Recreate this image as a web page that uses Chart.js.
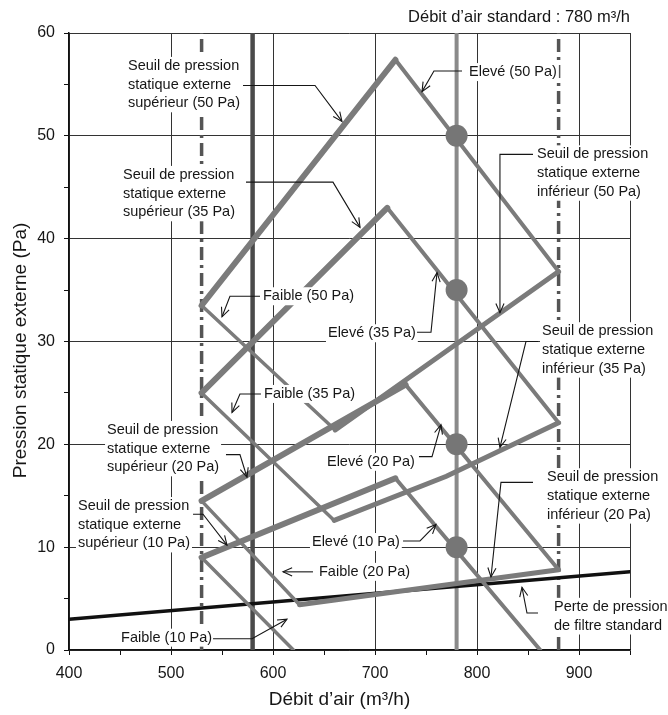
<!DOCTYPE html>
<html lang="fr">
<head>
<meta charset="utf-8">
<title>Pression statique externe</title>
<script src="https://cdn.jsdelivr.net/npm/chart.js@4.4.1/dist/chart.umd.min.js"></script>
<style>
  html, body { margin: 0; padding: 0; background: #fff; }
  #wrap { width: 668px; height: 715px; }
</style>
</head>
<body>
<div id="wrap"><canvas id="chart" width="668" height="715"></canvas></div>
<script>
// axis ticks
const xTicks = [400, 500, 600, 700, 800, 900];
const yTicks = [0, 10, 20, 30, 40, 50, 60];

// curves, [débit, pression]
const seuilSup50 = [[530, 33.5], [720, 57.4]];
const eleve50 = [[720, 57.4], [880, 36.8]];
const seuilInf50 = [[661, 21.4], [880, 36.8]];
const faible50 = [[530, 33.5], [661, 21.4]];

const seuilSup35 = [[530, 25.0], [712, 43.0]];
const eleve35 = [[712, 43.0], [880, 22.1]];
const seuilInf35 = [[660, 12.6], [770, 16.9], [880, 22.1]];
const faible35 = [[530, 25.0], [660, 12.6]];

const seuilSup20 = [[530, 14.5], [730, 25.8]];
const eleve20 = [[730, 25.8], [880, 7.8]];
const seuilInf20 = [[626, 4.4], [880, 7.8]];
const faible20 = [[530, 14.5], [626, 4.4]];

const seuilSup10 = [[530, 9.0], [720, 16.7]];
const eleve10 = [[720, 16.7], [862, 0]];
const faible10 = [[530, 9.0], [620, 0]];

const perteFiltre = [[400, 3.0], [950, 7.6]];

const debitStandard = 780;
const pointsStandard = [50, 35, 20, 10];
const debitMin = 580;
const debitLimites = [530, 880];

// callouts: text block, anchor and leader line (data units)
const notes = [
  { text: ['Seuil de pression', 'statique externe', 'supérieur (50 Pa)'], at: [457.8, 56.8], leader: [[570.6, 54.9], [641.2, 54.9], [667.6, 51.4]] },
  { text: ['Elevé (50 Pa)'], at: [792.2, 56.2], leader: [[785.3, 56.3], [757.8, 56.3], [746.1, 54.3]] },
  { text: ['Seuil de pression', 'statique externe', 'supérieur (35 Pa)'], at: [452.9, 46.2], leader: [[573.5, 45.5], [658.8, 45.5], [685.3, 41.1]] },
  { text: ['Faible (50 Pa)'], at: [590.2, 34.4], leader: [[587.3, 34.4], [557.8, 34.4], [550, 32.4]] },
  { text: ['Elevé (35 Pa)'], at: [653.9, 30.8], leader: [[741.2, 30.9], [754.9, 30.9], [760.8, 36.7]] },
  { text: ['Seuil de pression', 'statique externe', 'inférieur (50 Pa)'], at: [858.8, 48.2], leader: [[854.9, 48.2], [822.5, 48.2], [822.5, 32.8]] },
  { text: ['Seuil de pression', 'statique externe', 'inférieur (35 Pa)'], at: [863.7, 31.0], leader: [[859.8, 30.0], [848, 30.0], [822.5, 19.7]] },
  { text: ['Faible (35 Pa)'], at: [591.2, 24.9], leader: [[588.2, 24.9], [567.6, 24.9], [559.8, 23.1]] },
  { text: ['Seuil de pression', 'statique externe', 'supérieur (20 Pa)'], at: [437.3, 21.4], leader: [[553.9, 19.0], [567.6, 19.0], [574.5, 16.8]] },
  { text: ['Elevé (20 Pa)'], at: [652.9, 18.3], leader: [[743.1, 18.8], [755.9, 18.8], [764.7, 21.9]] },
  { text: ['Seuil de pression', 'statique externe', 'inférieur (20 Pa)'], at: [868.6, 16.8], leader: [[854.9, 16.3], [823.5, 16.3], [813.7, 7.1]] },
  { text: ['Seuil de pression', 'statique externe', 'supérieur (10 Pa)'], at: [408.8, 14.0], leader: [[521.6, 13.2], [531.4, 13.2], [554.9, 10.2]] },
  { text: ['Elevé (10 Pa)'], at: [638.2, 10.5], leader: [[727.5, 10.6], [744.1, 10.6], [759.8, 12.2]] },
  { text: ['Faible (20 Pa)'], at: [645.1, 7.6], leader: [[639.2, 7.6], [609.8, 7.6]] },
  { text: ['Faible (10 Pa)'], at: [451, 1.2], leader: [[541.2, 1.1], [579.4, 1.1], [613.7, 3.0]] },
  { text: ['Perte de pression', 'de filtre standard'], at: [875.5, 4.2], leader: [[859.8, 3.6], [849, 3.6], [844.1, 6.1]] }
];

const FONT = '"Liberation Sans", Arial, Helvetica, sans-serif';
const GRAY = '#7b7b7b';
const INK = '#161616';
Chart.defaults.font.family = FONT;

const line = (label, pts, width, color, order, dash) => ({
  label,
  data: pts.map(([x, y]) => ({ x, y })),
  showLine: true,
  borderColor: color,
  borderWidth: width,
  borderDash: dash || [],
  borderCapStyle: dash ? 'butt' : 'round',
  pointRadius: 0,
  fill: false,
  order
});

const vertical = (label, x, width, color, dash) =>
  line(label, [[x, yTicks[0]], [x, yTicks[yTicks.length - 1]]], width, color, 5, dash);

const datasets = [
  {
    label: 'Débit standard',
    data: pointsStandard.map(y => ({ x: debitStandard, y })),
    pointRadius: 11,
    pointBackgroundColor: '#767676',
    pointBorderWidth: 0,
    order: 0
  },
  line('Seuil sup 50', seuilSup50, 6, GRAY, 1),
  line('Elevé 50', eleve50, 4, GRAY, 1),
  line('Seuil inf 50', seuilInf50, 5, GRAY, 1),
  line('Faible 50', faible50, 3.5, GRAY, 1),
  line('Seuil sup 35', seuilSup35, 6, GRAY, 1),
  line('Elevé 35', eleve35, 4, GRAY, 1),
  line('Seuil inf 35', seuilInf35, 5, GRAY, 1),
  line('Faible 35', faible35, 3.5, GRAY, 1),
  line('Seuil sup 20', seuilSup20, 6, GRAY, 1),
  line('Elevé 20', eleve20, 4, GRAY, 1),
  line('Seuil inf 20', seuilInf20, 5, GRAY, 1),
  line('Faible 20', faible20, 3.5, GRAY, 1),
  line('Seuil sup 10', seuilSup10, 6, GRAY, 1),
  line('Elevé 10', eleve10, 4, GRAY, 1),
  line('Faible 10', faible10, 3.5, GRAY, 1),
  line('Perte de filtre', perteFiltre, 3.5, '#111', 3),
  vertical('Débit min', debitMin, 4.5, '#4a4a4a'),
  vertical('Débit std', debitStandard, 4, '#8a8a8a'),
  vertical('Limite basse', debitLimites[0], 3.5, '#555', [13, 5, 3, 5]),
  vertical('Limite haute', debitLimites[1], 3.5, '#555', [13, 5, 3, 5])
];

function arrowHead(ctx, from, to) {
  const a = Math.atan2(to[1] - from[1], to[0] - from[0]);
  const len = 10, spread = 0.42;
  ctx.beginPath();
  ctx.moveTo(to[0] - len * Math.cos(a - spread), to[1] - len * Math.sin(a - spread));
  ctx.lineTo(to[0], to[1]);
  ctx.lineTo(to[0] - len * Math.cos(a + spread), to[1] - len * Math.sin(a + spread));
  ctx.stroke();
}

const callouts = {
  id: 'callouts',
  afterDatasetsDraw(chart) {
    const { ctx, chartArea: area, scales: { x, y } } = chart;
    const lh = 18.7;
    ctx.save();
    ctx.font = '14.5px ' + FONT;
    ctx.textBaseline = 'middle';
    ctx.textAlign = 'left';

    // white boxes first so no box hides another leader
    notes.forEach(n => {
      const px = x.getPixelForValue(n.at[0]);
      const py = y.getPixelForValue(n.at[1]);
      const w = Math.max(...n.text.map(t => ctx.measureText(t).width));
      ctx.fillStyle = '#fff';
      ctx.fillRect(px - 2, py - 9, w + 4, (n.text.length - 1) * lh + 18);
    });

    ctx.strokeStyle = INK;
    ctx.lineWidth = 1.1;
    notes.forEach(n => {
      const px = x.getPixelForValue(n.at[0]);
      const py = y.getPixelForValue(n.at[1]);
      ctx.fillStyle = INK;
      n.text.forEach((t, i) => ctx.fillText(t, px, py + i * lh));

      const pts = n.leader.map(p => [x.getPixelForValue(p[0]), y.getPixelForValue(p[1])]);
      ctx.beginPath();
      pts.forEach((p, i) => (i ? ctx.lineTo(p[0], p[1]) : ctx.moveTo(p[0], p[1])));
      ctx.stroke();
      arrowHead(ctx, pts[pts.length - 2], pts[pts.length - 1]);
    });

    // header above the plot
    ctx.font = '16.5px ' + FONT;
    ctx.textAlign = 'right';
    ctx.fillStyle = INK;
    ctx.fillText('Débit d’air standard : ' + debitStandard + ' m³/h', area.right, area.top - 16);

    // axis titles
    ctx.font = '19px ' + FONT;
    ctx.textAlign = 'center';
    ctx.fillText('Débit d’air (m³/h)', (area.left + area.right) / 2 - 10, chart.height - 15);
    ctx.translate(21, (area.top + area.bottom) / 2 + 9);
    ctx.rotate(-Math.PI / 2);
    ctx.fillText('Pression statique externe (Pa)', 0, 0);
    ctx.restore();
  }
};

new Chart(document.getElementById('chart'), {
  type: 'scatter',
  data: { datasets },
  options: {
    responsive: false,
    animation: false,
    layout: { padding: { top: 33, right: 38, left: 0, bottom: 0 } },
    plugins: {
      legend: { display: false },
      tooltip: { enabled: false }
    },
    scales: {
      x: {
        type: 'linear',
        min: 400,
        max: 950,
        afterFit: s => { s.height = 65; },
        border: { display: true, color: '#111', width: 1.5 },
        grid: {
          color: c => (c.tick && (xTicks.includes(c.tick.value) || c.tick.value === 950)) ? '#333' : 'rgba(0,0,0,0)',
          tickColor: '#111',
          tickLength: 5,
          lineWidth: 1
        },
        ticks: {
          stepSize: 50,
          autoSkip: false,
          maxRotation: 0,
          padding: 9,
          color: INK,
          font: { size: 16 },
          callback: v => (xTicks.includes(v) ? v : '')
        }
      },
      y: {
        min: 0,
        max: 60,
        afterFit: s => { s.width = 69; },
        border: { display: true, color: '#111', width: 1.5 },
        grid: {
          color: c => (c.tick && yTicks.includes(c.tick.value)) ? '#333' : 'rgba(0,0,0,0)',
          tickColor: '#111',
          tickLength: 5,
          lineWidth: 1
        },
        ticks: {
          stepSize: 5,
          autoSkip: false,
          padding: 9,
          color: INK,
          font: { size: 16 },
          callback: v => (yTicks.includes(v) ? v : '')
        }
      }
    }
  },
  plugins: [callouts]
});
</script>
</body>
</html>
